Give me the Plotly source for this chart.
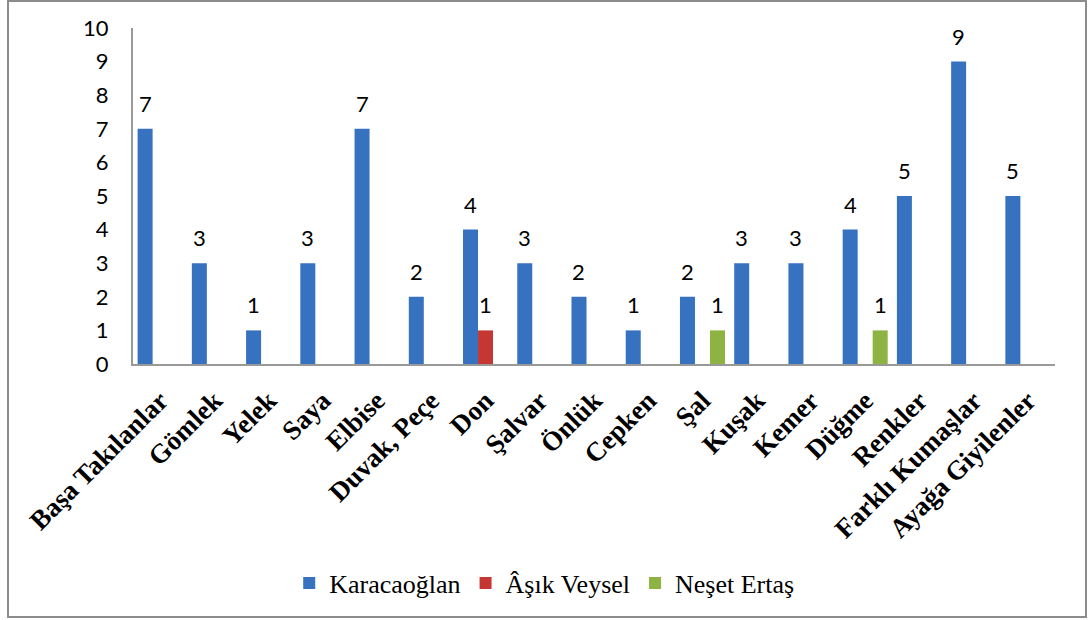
import plotly.graph_objects as go

categories = ["Başa Takılanlar", "Gömlek", "Yelek", "Saya", "Elbise", "Duvak, Peçe",
              "Don", "Şalvar", "Önlük", "Cepken", "Şal", "Kuşak", "Kemer", "Düğme",
              "Renkler", "Farklı Kumaşlar", "Ayağa Giyilenler"]
karacaoglan = [7, 3, 1, 3, 7, 2, 4, 3, 2, 1, 2, 3, 3, 4, 5, 9, 5]
asik_veysel = [0, 0, 0, 0, 0, 0, 1, 0, 0, 0, 0, 0, 0, 0, 0, 0, 0]
neset_ertas = [0, 0, 0, 0, 0, 0, 0, 0, 0, 0, 1, 0, 0, 1, 0, 0, 0]
y_ticks = list(range(0, 11))

series = [
    ("Karacaoğlan", karacaoglan, "#3672C0"),
    ("Âşık Veysel", asik_veysel, "#C43733"),
    ("Neşet Ertaş", neset_ertas, "#8DB443"),
]

BARGAP = 0.17
w = (1 - BARGAP) / 3

fig = go.Figure()
annotations = []
for si, (name, vals, col) in enumerate(series):
    fig.add_trace(go.Bar(x=categories, y=vals, name=name, marker_color=col,
                         marker_line_width=0))
    off = (si - 1) * w
    for i, v in enumerate(vals):
        if v:
            annotations.append(dict(x=i + off, y=v, xref="x", yref="y", text=str(v),
                                    showarrow=False, yanchor="bottom", yshift=10,
                                    font=dict(family="Lato", size=22, color="#000")))

fig.update_layout(
    width=1089, height=620,
    margin=dict(l=133, r=34, t=28, b=256),
    paper_bgcolor="white", plot_bgcolor="white",
    font=dict(family="Liberation Serif, serif", color="#000"),
    barmode="group", bargap=BARGAP, bargroupgap=0,
    showlegend=True,
    legend=dict(orientation="h", x=0.446, xanchor="center", y=-0.652, yanchor="middle",
                font=dict(family="Liberation Serif, serif", size=26, color="#000"),
                itemwidth=30, bgcolor="rgba(0,0,0,0)"),
    annotations=annotations,
    shapes=[dict(type="rect", xref="paper", yref="paper",
                 x0=(8 - 133) / 922, x1=(1086 - 133) / 922,
                 y0=(364 - 617) / 336, y1=(364 - 1) / 336,
                 line=dict(color="#8c8c8c", width=2), fillcolor="rgba(0,0,0,0)")],
)
fig.update_xaxes(type="category", showline=True, linecolor="#999999", linewidth=2,
                 showgrid=False, ticks="", tickangle=-45, ticklabelstandoff=8,
                 tickfont=dict(family="Liberation Serif, serif", size=27, color="#000",
                               weight="bold"))
fig.update_yaxes(range=[0, 10], tickvals=y_ticks, showline=True, linecolor="#999999",
                 linewidth=2, showgrid=False, zeroline=False, ticks="",
                 ticklabelstandoff=18,
                 tickfont=dict(family="Lato", size=22, color="#000"))

fig.write_html("out.html", config={"displayModeBar": False},
               post_script="document.body.style.margin='0';document.body.style.overflow='hidden';")
